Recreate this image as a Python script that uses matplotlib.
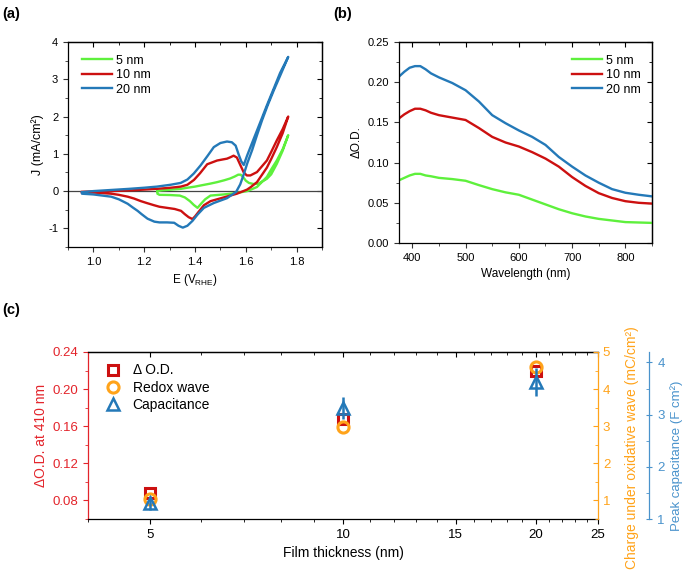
import matplotlib
matplotlib.use("Agg")
import matplotlib.pyplot as plt
from matplotlib.ticker import MultipleLocator, FixedLocator, NullFormatter, FixedFormatter
from matplotlib.lines import Line2D

plt.rcParams['font.family'] = ['Liberation Sans', 'DejaVu Sans']
plt.rcParams['mathtext.fontset'] = 'custom'
plt.rcParams['mathtext.rm'] = 'Liberation Sans'
plt.rcParams['axes.linewidth'] = 0.9
plt.rcParams['axes.unicode_minus'] = False

GREEN = '#5ef03c'
RED = '#cc1010'
BLUE = '#2479b8'
ORANGE = '#ffa31a'
AXRED = '#e3242b'
AXBLUE = '#4a93cc'

# ---- (a) cyclic voltammograms, loops ----
cv_labels = ['5 nm', '10 nm', '20 nm']
e_5nm = [1.252, 1.27, 1.30, 1.344, 1.37, 1.40, 1.422, 1.46, 1.487, 1.515, 1.539, 1.556, 1.570, 1.580,
         1.590, 1.600, 1.612, 1.63, 1.65, 1.683, 1.70, 1.722, 1.745, 1.767,
         1.745, 1.722, 1.70, 1.683, 1.66, 1.644, 1.62, 1.605, 1.565, 1.513, 1.461, 1.44, 1.425,
         1.41, 1.395, 1.38, 1.36, 1.34, 1.30, 1.26, 1.252, 1.252]
j_5nm = [0.0, 0.02, 0.035, 0.06, 0.09, 0.12, 0.15, 0.20, 0.24, 0.29, 0.34, 0.39, 0.44, 0.44,
         0.37, 0.28, 0.22, 0.19, 0.20, 0.33, 0.45, 0.73, 1.08, 1.50,
         1.12, 0.82, 0.58, 0.38, 0.22, 0.11, 0.04, 0.0, -0.05, -0.09, -0.12, -0.22, -0.33,
         -0.45, -0.37, -0.27, -0.17, -0.12, -0.105, -0.10, -0.07, 0.0]

e_10nm = [0.955, 1.0, 1.07, 1.15, 1.2, 1.25, 1.304, 1.344, 1.37, 1.396, 1.42, 1.448, 1.487, 1.51,
          1.526, 1.540, 1.552, 1.565, 1.579, 1.592, 1.604, 1.618, 1.644, 1.683, 1.70, 1.722, 1.745, 1.767,
          1.745, 1.722, 1.70, 1.683, 1.66, 1.644, 1.62, 1.605, 1.565, 1.513, 1.461, 1.435, 1.415,
          1.40, 1.39, 1.375, 1.36, 1.345, 1.32, 1.29, 1.26, 1.239, 1.21, 1.187, 1.16, 1.135, 1.10,
          1.07, 1.0, 0.955]
j_10nm = [-0.02, -0.01, 0.0, 0.02, 0.04, 0.06, 0.09, 0.12, 0.17, 0.30, 0.48, 0.72, 0.82, 0.85,
          0.87, 0.91, 0.95, 0.90, 0.69, 0.50, 0.42, 0.42, 0.51, 0.82, 1.05, 1.36, 1.66, 2.0,
          1.55, 1.18, 0.86, 0.63, 0.40, 0.24, 0.11, 0.04, -0.07, -0.17, -0.27, -0.38, -0.55,
          -0.68, -0.75, -0.70, -0.62, -0.53, -0.48, -0.45, -0.42, -0.38, -0.32, -0.27, -0.20, -0.15, -0.10,
          -0.07, -0.04, -0.03]

e_20nm = [0.955, 1.0, 1.07, 1.14, 1.2, 1.25, 1.304, 1.344, 1.37, 1.395, 1.422, 1.45, 1.474, 1.50,
          1.526, 1.545, 1.56, 1.572, 1.582, 1.592, 1.605, 1.631, 1.66, 1.683, 1.71, 1.735, 1.767,
          1.738, 1.71, 1.686, 1.664, 1.644, 1.625, 1.606, 1.592, 1.578, 1.562, 1.526, 1.474, 1.435, 1.41,
          1.39, 1.37, 1.352, 1.335, 1.318, 1.29, 1.26, 1.24, 1.213, 1.19, 1.174, 1.155, 1.135, 1.10,
          1.07, 1.0, 0.955, 0.955]
j_20nm = [-0.03, 0.0, 0.03, 0.06, 0.09, 0.12, 0.17, 0.22, 0.31, 0.47, 0.69, 0.95, 1.18, 1.29,
          1.33, 1.31, 1.22, 0.98, 0.80, 0.70, 0.95, 1.40, 1.90, 2.30, 2.75, 3.17, 3.60,
          3.14, 2.70, 2.30, 1.90, 1.50, 1.10, 0.75, 0.45, 0.18, -0.02, -0.19, -0.32, -0.45, -0.63,
          -0.80, -0.93, -0.98, -0.93, -0.85, -0.84, -0.84, -0.82, -0.74, -0.62, -0.53, -0.44, -0.34, -0.22,
          -0.15, -0.09, -0.07, -0.03]

# ---- (b) difference spectra ----
wl = [375, 385, 395, 405, 415, 425, 435, 450, 475, 500, 525, 550, 575, 600, 625, 650, 675, 700,
      725, 750, 775, 800, 825, 850]
od_5nm = [0.078, 0.081, 0.084, 0.086, 0.086, 0.084, 0.083, 0.081, 0.0795, 0.0774, 0.072, 0.067,
          0.063, 0.060, 0.054, 0.048, 0.042, 0.037, 0.033, 0.030, 0.028, 0.026, 0.0255, 0.025]
od_10nm = [0.155, 0.160, 0.164, 0.167, 0.167, 0.165, 0.162, 0.159, 0.156, 0.153, 0.143, 0.132,
           0.125, 0.120, 0.113, 0.105, 0.095, 0.082, 0.071, 0.062, 0.056, 0.052, 0.050, 0.049]
od_20nm = [0.207, 0.213, 0.218, 0.220, 0.220, 0.216, 0.211, 0.206, 0.199, 0.190, 0.176, 0.159,
           0.149, 0.140, 0.132, 0.122, 0.107, 0.095, 0.084, 0.075, 0.067, 0.0625, 0.060, 0.058]

# ---- (c) thickness dependence ----
thickness = [5, 10, 20]
od_410 = [0.0875, 0.168, 0.2196]
charge = [1.05, 2.99, 4.6]
capacitance = [1.31, 3.13, 3.63]
capacitance_err = [0.13, 0.21, 0.27]

fig = plt.figure(figsize=(6.85, 5.74), dpi=100)


def mirror_ticks(ax):
    ax.tick_params(which='both', direction='out', labelsize=8, color='#333333')
    ax.tick_params(which='major', length=3.5)
    ax.tick_params(which='minor', length=2)
    top = ax.secondary_xaxis('top')
    top.tick_params(which='both', direction='in', labeltop=False)
    top.tick_params(which='major', length=3.5)
    top.tick_params(which='minor', length=2)
    top.xaxis.set_major_locator(ax.xaxis.get_major_locator())
    top.xaxis.set_minor_locator(ax.xaxis.get_minor_locator())
    right = ax.secondary_yaxis('right')
    right.tick_params(which='both', direction='in', labelright=False)
    right.tick_params(which='major', length=3.5)
    right.tick_params(which='minor', length=2)
    right.yaxis.set_major_locator(ax.yaxis.get_major_locator())
    right.yaxis.set_minor_locator(ax.yaxis.get_minor_locator())


# panel (a)
ax_a = fig.add_axes([68/685, 1-247/574, 254/685, 205/574])
ax_a.axhline(0, color='#444444', lw=0.9, zorder=1)
for e, j, c, lab in zip([e_5nm, e_10nm, e_20nm], [j_5nm, j_10nm, j_20nm],
                        [GREEN, RED, BLUE], cv_labels):
    ax_a.plot(e, j, color=c, lw=1.7, label=lab, solid_joinstyle='round')
ax_a.set_xlim(0.9, 1.9)
ax_a.set_ylim(-1.5, 4)
ax_a.xaxis.set_major_locator(FixedLocator([1.0, 1.2, 1.4, 1.6, 1.8]))
ax_a.xaxis.set_minor_locator(MultipleLocator(0.1))
ax_a.yaxis.set_major_locator(MultipleLocator(1))
ax_a.yaxis.set_minor_locator(MultipleLocator(0.5))
ax_a.set_xlabel(r'E (V$_\mathregular{RHE}$)', fontsize=8.5, labelpad=4)
ax_a.set_ylabel('J (mA/cm²)', fontsize=9, labelpad=3)
mirror_ticks(ax_a)
ax_a.legend(loc='upper left', bbox_to_anchor=(0.02, 0.98), frameon=False, fontsize=9,
            handlelength=2.4, handletextpad=0.3, labelspacing=0.2, borderaxespad=0.3)

# panel (b)
ax_b = fig.add_axes([399/685, 1-243/574, 253/685, 201/574])
for od, c, lab in zip([od_5nm, od_10nm, od_20nm], [GREEN, RED, BLUE], cv_labels):
    ax_b.plot(wl, od, color=c, lw=1.7, label=lab, solid_joinstyle='round')
ax_b.set_xlim(375, 850)
ax_b.set_ylim(0, 0.25)
ax_b.xaxis.set_major_locator(MultipleLocator(100))
ax_b.xaxis.set_minor_locator(MultipleLocator(50))
ax_b.yaxis.set_major_locator(MultipleLocator(0.05))
ax_b.yaxis.set_minor_locator(MultipleLocator(0.025))
ax_b.yaxis.set_major_formatter(plt.FormatStrFormatter('%.2f'))
ax_b.set_xlabel('Wavelength (nm)', fontsize=8.5, labelpad=4)
ax_b.set_ylabel('ΔO.D.', fontsize=8.5, labelpad=4)
mirror_ticks(ax_b)
ax_b.legend(loc='upper right', bbox_to_anchor=(0.99, 0.98), frameon=False, fontsize=9,
            handlelength=2.4, handletextpad=0.3, labelspacing=0.2, borderaxespad=0.3)

# panel (c)
ax_c = fig.add_axes([88/685, 1-519/574, 510/685, 167/574])
ax_c.set_xscale('log')
ax_c.set_xlim(4, 25)
ax_c.xaxis.set_major_locator(FixedLocator([5, 10, 15, 20, 25]))
ax_c.xaxis.set_major_formatter(FixedFormatter(['5', '10', '15', '20', '25']))
ax_c.xaxis.set_minor_locator(FixedLocator([4, 6, 7, 8, 9, 11, 12, 13, 14, 16, 17, 18, 19, 21, 22, 23, 24]))
ax_c.xaxis.set_minor_formatter(NullFormatter())
ax_c.set_ylim(0.06, 0.24)
ax_c.yaxis.set_major_locator(MultipleLocator(0.04))
ax_c.yaxis.set_minor_locator(MultipleLocator(0.02))
ax_c.yaxis.set_major_formatter(plt.FormatStrFormatter('%.2f'))
ax_c.tick_params(which='both', direction='out', labelsize=9.5)
ax_c.tick_params(which='major', length=3.5)
ax_c.tick_params(which='minor', length=2)
ax_c.tick_params(axis='y', which='both', colors=AXRED)
ax_c.spines['left'].set_color(AXRED)
ax_c.spines['right'].set_visible(False)
ax_c.set_xlabel('Film thickness (nm)', fontsize=10, labelpad=4)
ax_c.set_ylabel('ΔO.D. at 410 nm', fontsize=10, color=AXRED, labelpad=3)
top_c = ax_c.secondary_xaxis('top')
top_c.xaxis.set_major_locator(FixedLocator([5, 10, 15, 20, 25]))
top_c.xaxis.set_minor_locator(FixedLocator([4, 6, 7, 8, 9, 11, 12, 13, 14, 16, 17, 18, 19, 21, 22, 23, 24]))
top_c.tick_params(which='both', direction='in', labeltop=False)
top_c.tick_params(which='major', length=3.5)
top_c.tick_params(which='minor', length=2)

ax_o = ax_c.twinx()
ax_o.set_ylim(0.5, 5)
ax_o.yaxis.set_major_locator(MultipleLocator(1))
ax_o.yaxis.set_minor_locator(MultipleLocator(0.5))
ax_o.tick_params(axis='y', which='both', direction='in', colors=ORANGE, labelsize=9.5)
ax_o.tick_params(which='major', length=3.5)
ax_o.tick_params(which='minor', length=2)
for s in ['left', 'top', 'bottom']:
    ax_o.spines[s].set_visible(False)
ax_o.spines['right'].set_color(ORANGE)
ax_o.set_ylabel('Charge under oxidative wave (mC/cm²)', fontsize=10, color=ORANGE)
ax_o.yaxis.set_label_coords(1.052, 0.43)

ax_p = ax_c.twinx()
ax_p.spines['right'].set_position(('axes', 1.1))
for s in ['left', 'top', 'bottom']:
    ax_p.spines[s].set_visible(False)
ax_p.spines['right'].set_color(AXBLUE)
ax_p.set_ylim(1, 4.2)
ax_p.yaxis.set_major_locator(MultipleLocator(1))
ax_p.yaxis.set_minor_locator(MultipleLocator(0.5))
ax_p.tick_params(axis='y', which='major', direction='inout', length=5, colors=AXBLUE, labelsize=9.5)
ax_p.tick_params(axis='y', which='minor', direction='in', length=2, colors=AXBLUE)
ax_p.set_ylabel('Peak capacitance (F cm²)', fontsize=9.5, color=AXBLUE)
ax_p.yaxis.set_label_coords(1.142, 0.38)

ax_c.plot(thickness, od_410, 's', ms=7, mfc='white', mec=RED, mew=2.2, zorder=3)
ax_o.plot(thickness, charge, 'o', ms=8, mfc='none', mec=ORANGE, mew=2.2, zorder=3)
ax_p.errorbar(thickness, capacitance, yerr=capacitance_err, fmt='^', ms=9, mfc='none',
              mec=BLUE, mew=1.8, ecolor=BLUE, elinewidth=1.8, capsize=0, zorder=4)

handles = [Line2D([], [], ls='none', marker='s', ms=7, mfc='white', mec=RED, mew=2.2),
           Line2D([], [], ls='none', marker='o', ms=8, mfc='none', mec=ORANGE, mew=2.2),
           Line2D([], [], ls='none', marker='^', ms=9, mfc='none', mec=BLUE, mew=1.8)]
ax_p.legend(handles, ['Δ O.D.', 'Redox wave', 'Capacitance'], loc='upper left',
            bbox_to_anchor=(0.014, 0.99), frameon=False, fontsize=10, handlelength=1.2,
            handletextpad=0.8, labelspacing=0.25, borderaxespad=0.3)

fig.text(0.003, 0.975, '(a)', fontsize=10.5, fontweight='bold', va='center')
fig.text(333/685, 0.975, '(b)', fontsize=10.5, fontweight='bold', va='center')
fig.text(0.003, 1-310/574, '(c)', fontsize=10.5, fontweight='bold', va='center')

fig.savefig('out.png', dpi=100)
